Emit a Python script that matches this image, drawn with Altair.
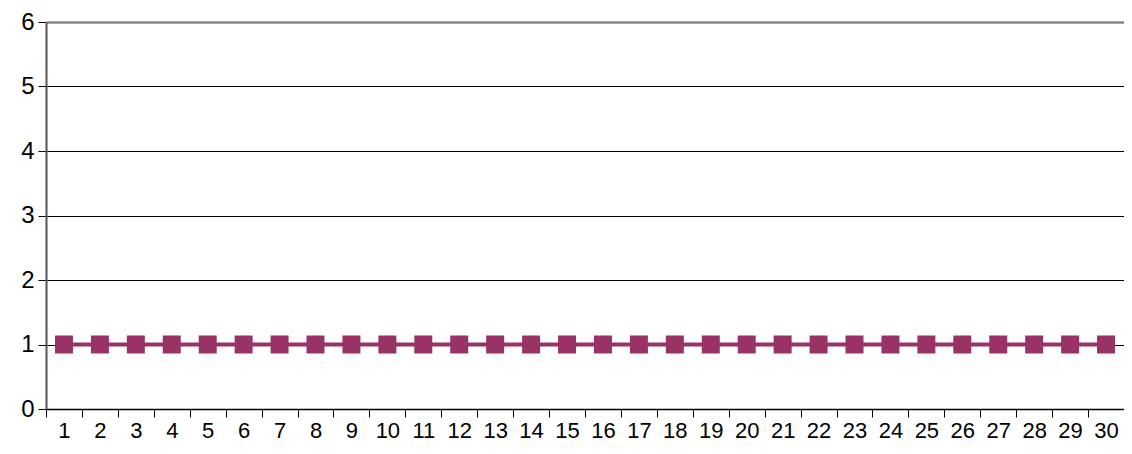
import altair as alt
import pandas as pd

days = list(range(1, 31))
values = [1] * 30

df = pd.DataFrame({"day": days, "value": values})

color = "#993366"

x = alt.X("day:O", title=None,
          scale=alt.Scale(paddingInner=0, paddingOuter=0),
          axis=alt.Axis(labelAngle=0, tickBand="extent", domainColor="black",
                        domainWidth=1.5, tickColor="black", tickSize=8,
                        labelFont="Liberation Sans", labelFontSize=22,
                        labelColor="black", labelPadding=3, grid=False))
y = alt.Y("value:Q", title=None,
          scale=alt.Scale(domain=[0, 6], nice=False),
          axis=alt.Axis(values=[0, 1, 2, 3, 4, 5, 6], tickColor="black", tickSize=8,
                        domainColor="#555555", domainWidth=2,
                        labelFont="Liberation Sans", labelFontSize=24,
                        labelColor="black", labelPadding=4,
                        gridColor={"condition": {"test": "datum.value == 6", "value": "#888888"},
                                   "value": "black"},
                        gridWidth={"condition": {"test": "datum.value == 6", "value": 2.5},
                                   "value": 1}))

base = alt.Chart(df).encode(x=x, y=y)
line = base.mark_line(color=color, strokeWidth=4)
pts = base.mark_square(color=color, size=324, opacity=1)

chart = (line + pts).properties(
    width=1078, height=387,
    autosize=alt.AutoSizeParams(type="none"),
    padding={"left": 38, "top": 14, "right": 0, "bottom": 37},
).configure_view(stroke="#888888", strokeWidth=2.5).configure(background="white")

chart.save("out.html", embed_options={"renderer": "svg", "actions": False})
